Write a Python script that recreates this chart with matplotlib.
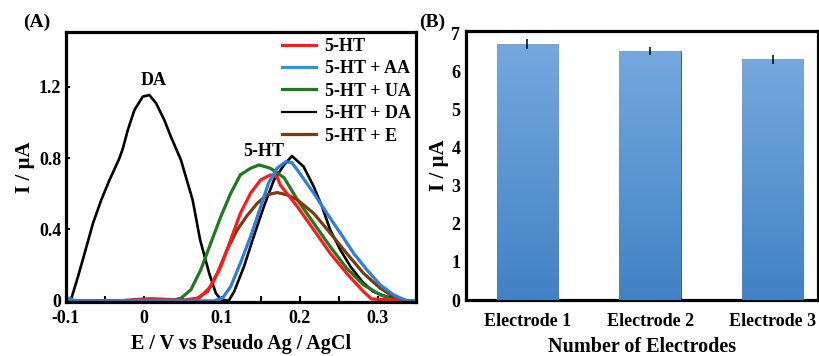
import matplotlib
matplotlib.use("Agg")
import matplotlib.pyplot as plt
import numpy as np
from matplotlib.ticker import MultipleLocator

plt.rcParams["font.family"] = ["Liberation Serif", "DejaVu Serif"]
plt.rcParams["font.weight"] = "bold"

# ---- panel A: DPV curves (E in V, I in uA) ----
ht_x = [-0.098, -0.03, -0.01, 0.01, 0.03, 0.05, 0.071, 0.086, 0.099, 0.1116, 0.124,
        0.137, 0.15, 0.1626, 0.171, 0.175, 0.197, 0.218, 0.239, 0.26, 0.2816, 0.292,
        0.349]
ht_y = [0.0, 0.0, 0.008, 0.012, 0.008, 0.004, 0.015, 0.08, 0.192, 0.342, 0.49,
        0.603, 0.678, 0.706, 0.696, 0.65, 0.528, 0.398, 0.267, 0.155, 0.052, 0.01,
        0.0]

aa_x = [-0.098, -0.095, -0.088, 0.0, 0.09, 0.101, 0.1116, 0.124, 0.137, 0.15, 0.16,
        0.171, 0.182, 0.19, 0.2, 0.218, 0.235, 0.252, 0.269, 0.286, 0.303, 0.32,
        0.337, 0.349]
aa_y = [0.0, 0.015, 0.0, 0.0, 0.0, 0.015, 0.08, 0.211, 0.36, 0.528, 0.66,
        0.743, 0.78, 0.775, 0.715, 0.603, 0.49, 0.38, 0.267, 0.174, 0.09, 0.034,
        0.0, 0.0]

ua_x = [-0.098, 0.0, 0.035, 0.048, 0.0606, 0.0733, 0.086, 0.0989, 0.1116, 0.124,
        0.137, 0.148, 0.1626, 0.18, 0.197, 0.218, 0.239, 0.26, 0.2816, 0.303, 0.324,
        0.349]
ua_y = [0.0, 0.0, 0.0, 0.015, 0.062, 0.174, 0.323, 0.472, 0.603, 0.706,
        0.743, 0.762, 0.743, 0.69, 0.566, 0.435, 0.304, 0.183, 0.09, 0.034, 0.0,
        0.0]

da_x = [-0.0975, -0.0924, -0.084, -0.0755, -0.0648, -0.0542, -0.0436, -0.0309, -0.0265,
        -0.0202, -0.0117, -0.001, 0.0074, 0.016, 0.0265, 0.035, 0.0478, 0.0628, 0.0724,
        0.084, 0.0925, 0.099, 0.109, 0.116, 0.1286, 0.141, 0.154, 0.167, 0.18, 0.19,
        0.205, 0.218, 0.2286, 0.239, 0.252, 0.265, 0.28, 0.294, 0.311, 0.328, 0.337,
        0.349]
da_y = [0.0, 0.015, 0.136, 0.267, 0.435, 0.566, 0.678, 0.80, 0.855,
        0.958, 1.07, 1.145, 1.154, 1.108, 1.014, 0.92, 0.79, 0.566, 0.342,
        0.155, 0.043, 0.008, 0.0, 0.052, 0.192, 0.36, 0.528, 0.678, 0.762, 0.812,
        0.752, 0.64, 0.528, 0.398, 0.286, 0.192, 0.108, 0.052, 0.024, 0.01, 0.0,
        0.0]

e_x = [-0.098, 0.0, 0.055, 0.069, 0.082, 0.0946, 0.107, 0.12, 0.133, 0.1457, 0.158,
       0.171, 0.184, 0.197, 0.218, 0.239, 0.26, 0.2816, 0.303, 0.32, 0.337, 0.349]
e_y = [0.0, 0.0, 0.0, 0.015, 0.052, 0.155, 0.286, 0.398, 0.48, 0.547, 0.594,
       0.607, 0.594, 0.566, 0.49, 0.38, 0.267, 0.155, 0.071, 0.024, 0.0, 0.0]

curve_labels = ["5-HT", "5-HT + AA", "5-HT + UA", "5-HT + DA", "5-HT + E"]
curve_colors = ["#ff1a1a", "#1e9be8", "#1f7a1f", "#000000", "#7a3b12"]
line_colors = ["#ff1a1a", "#2a7fe0", "#1f7a1f", "#000000", "#7a3b12"]

# ---- panel B: reproducibility bars ----
electrodes = ["Electrode 1", "Electrode 2", "Electrode 3"]
currents = [6.73, 6.54, 6.32]
errors = [0.13, 0.11, 0.12]

fig = plt.figure(figsize=(8.19, 3.56), dpi=100)

ax = fig.add_axes([0.080, 0.152, 0.428, 0.758])
curves = [(ht_x, ht_y), (aa_x, aa_y), (ua_x, ua_y), (da_x, da_y), (e_x, e_y)]
for i in [3, 2, 4, 0, 1]:
    xs, ys = curves[i]
    ax.plot(xs, ys, color=line_colors[i], lw=1.9 if i == 3 else 2.3,
            solid_joinstyle="round", zorder=2)
handles = [plt.Line2D([], [], color=c, lw=1.6 if c == "#000000" else 2.3)
           for c in curve_colors]
ax.legend(handles, curve_labels, loc="upper left", bbox_to_anchor=(0.618, 0.978),
          frameon=False, handlelength=1.9, handletextpad=0.45,
          labelspacing=0.3, borderaxespad=0, borderpad=0,
          prop={"weight": "bold", "size": 13})
ax.set_xlim(-0.098, 0.349)
ax.set_ylim(-0.006, 1.507)
ax.set_xticks([-0.1, 0, 0.1, 0.2, 0.3])
ax.set_xticklabels(["-0.1", "0", "0.1", "0.2", "0.3"])
ax.xaxis.set_minor_locator(MultipleLocator(0.05))
ax.set_yticks([0, 0.4, 0.8, 1.2])
ax.set_yticklabels(["0", "0.4", "0.8", "1.2"])
ax.tick_params(axis="x", which="both", direction="in", length=4, width=1.5,
               labelsize=13, pad=6)
ax.tick_params(axis="y", direction="in", length=3, width=1.5, labelsize=13, pad=3)
for s in ax.spines.values():
    s.set_linewidth(2.3)
ax.set_xlabel("E / V vs Pseudo Ag / AgCl", fontsize=14.5, fontweight="bold", labelpad=5)
ax.set_ylabel("I / µA", fontsize=15, fontweight="bold", labelpad=3)
ax.text(0.0134, 1.185, "DA", ha="center", va="bottom", fontsize=13, fontweight="bold")
ax.text(0.154, 0.79, "5-HT", ha="center", va="bottom", fontsize=13, fontweight="bold")
fig.text(0.045, 0.938, "(A)", ha="center", va="center", fontsize=14, fontweight="bold")

bx = fig.add_axes([0.569, 0.157, 0.430, 0.756])
pos = np.arange(len(electrodes))
bars = bx.bar(pos, currents, width=0.5, color="#5294d4", edgecolor="#3a5f88",
              linewidth=0.7, zorder=2)
grad = np.linspace(0, 1, 256).reshape(-1, 1)
cmap = matplotlib.colors.LinearSegmentedColormap.from_list("b", ["#4182c5", "#75a8de"])
for b in bars:
    x0, w, h = b.get_x(), b.get_width(), b.get_height()
    im = bx.imshow(grad, cmap=cmap, aspect="auto", origin="lower",
                   extent=[x0, x0 + w, 0, h], zorder=3)
    im.set_clip_path(b)
bx.errorbar(pos, currents, yerr=errors, fmt="none", ecolor="black", elinewidth=1.1,
            capsize=0, zorder=4)
bx.set_xlim(-0.5, 2.37)
bx.set_ylim(0, 7.06)
bx.set_yticks(range(0, 8))
bx.set_xticks(pos)
bx.set_xticklabels(electrodes)
bx.tick_params(axis="y", length=0, labelsize=13, pad=4)
bx.tick_params(axis="x", length=0, labelsize=13, pad=9)
for s in bx.spines.values():
    s.set_linewidth(2.3)
bx.set_xlabel("Number of Electrodes", fontsize=14.5, fontweight="bold", labelpad=5)
bx.set_ylabel("I / µA", fontsize=15, fontweight="bold", labelpad=2)
fig.text(0.528, 0.938, "(B)", ha="center", va="center", fontsize=14, fontweight="bold")

fig.savefig("out.png", dpi=100)
